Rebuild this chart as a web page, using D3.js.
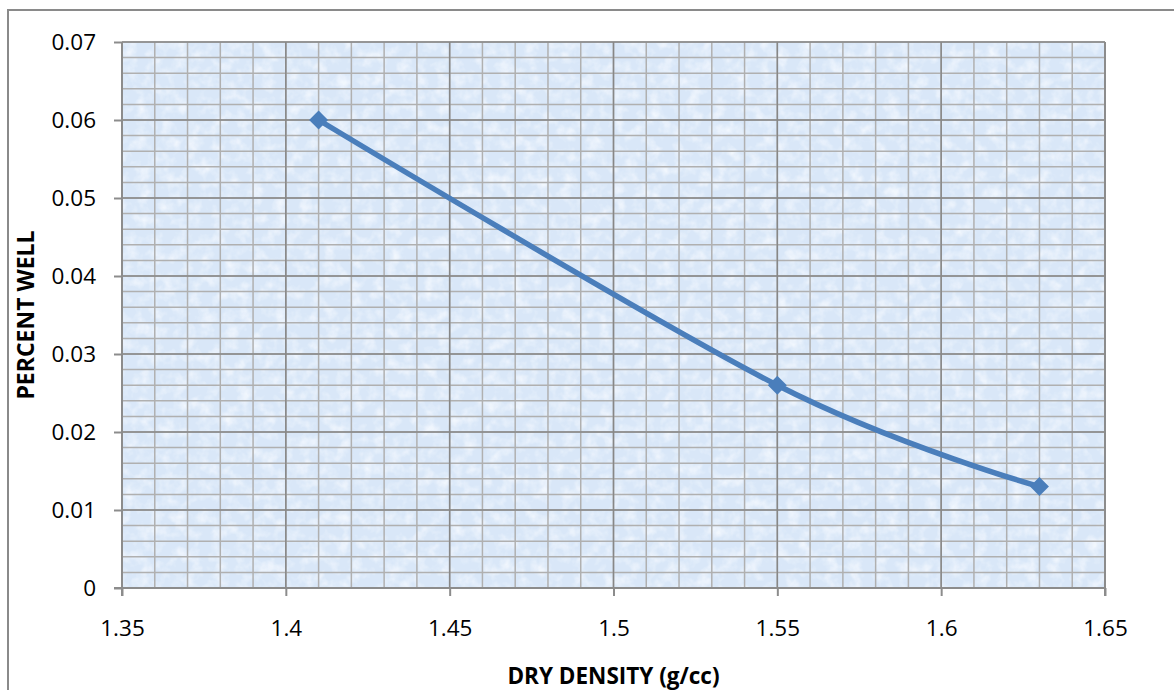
<!DOCTYPE html>
<html>
<head>
<meta charset="utf-8">
<script src="https://cdn.jsdelivr.net/npm/d3@7"></script>
<style>
  html, body { margin: 0; padding: 0; background: #fff; }
  svg { display: block; }
</style>
</head>
<body>
<svg id="chart" width="1174" height="690"></svg>
<script>
// ---- data ----
const xValues = [1.41, 1.55, 1.63];
const yValues = [0.06, 0.026, 0.013];
const xTickValues = [1.35, 1.40, 1.45, 1.50, 1.55, 1.60, 1.65];
const xTickLabels = ["1.35", "1.4", "1.45", "1.5", "1.55", "1.6", "1.65"];
const yTickValues = [0, 0.01, 0.02, 0.03, 0.04, 0.05, 0.06, 0.07];
const yTickLabels = ["0", "0.01", "0.02", "0.03", "0.04", "0.05", "0.06", "0.07"];
const xTitle = "DRY DENSITY (g/cc)";
const yTitle = "PERCENT WELL";

// ---- layout ----
const W = 1174, H = 690;
const plot = { left: 122, top: 42, right: 1105, bottom: 588 };
const svg = d3.select("#chart");
const font = "'Open Sans', 'Noto Sans', sans-serif";

const x = d3.scaleLinear().domain([1.35, 1.65]).range([plot.left, plot.right]);
const y = d3.scaleLinear().domain([0, 0.07]).range([plot.bottom, plot.top]);

// outer chart border
svg.append("rect")
  .attr("x", 8).attr("y", 10).attr("width", W + 10).attr("height", H + 10)
  .attr("fill", "#fff").attr("stroke", "#8a8a8a").attr("stroke-width", 2);

// background texture
const defs = svg.append("defs");
const f = defs.append("filter").attr("id", "tex")
  .attr("x", 0).attr("y", 0).attr("width", 1).attr("height", 1);
f.append("feTurbulence").attr("type", "fractalNoise")
  .attr("baseFrequency", "0.08").attr("numOctaves", 3).attr("seed", 4).attr("result", "n");
f.append("feColorMatrix").attr("in", "n").attr("type", "matrix")
  .attr("values", "0 0 0 0 0.93  0 0 0 0 0.96  0 0 0 0 1.0  0 0 0 -2.2 1.25")
  .attr("result", "c");
f.append("feComposite").attr("in", "c").attr("in2", "SourceGraphic").attr("operator", "in");

svg.append("rect")
  .attr("x", plot.left).attr("y", plot.top)
  .attr("width", plot.right - plot.left).attr("height", plot.bottom - plot.top)
  .attr("fill", "#d9e7f8");
svg.append("rect")
  .attr("x", plot.left).attr("y", plot.top)
  .attr("width", plot.right - plot.left).attr("height", plot.bottom - plot.top)
  .attr("fill", "#000").attr("opacity", 0.8).attr("filter", "url(#tex)");

// minor grid
const xMinor = d3.range(0, 31).map(i => 1.35 + i * 0.01);
const yMinor = d3.range(0, 36).map(i => i * 0.002);
const grid = svg.append("g");
grid.selectAll(".vminor").data(xMinor).join("line")
  .attr("x1", d => x(d)).attr("x2", d => x(d))
  .attr("y1", plot.top).attr("y2", plot.bottom)
  .attr("stroke", "#b0b0b0").attr("stroke-width", 1.5);
grid.selectAll(".hminor").data(yMinor).join("line")
  .attr("y1", d => y(d)).attr("y2", d => y(d))
  .attr("x1", plot.left).attr("x2", plot.right)
  .attr("stroke", "#b0b0b0").attr("stroke-width", 1.5);
// major grid
grid.selectAll(".vmajor").data(xTickValues).join("line")
  .attr("x1", d => x(d)).attr("x2", d => x(d))
  .attr("y1", plot.top).attr("y2", plot.bottom)
  .attr("stroke", "#878787").attr("stroke-width", 1.5);
grid.selectAll(".hmajor").data(yTickValues).join("line")
  .attr("y1", d => y(d)).attr("y2", d => y(d))
  .attr("x1", plot.left).attr("x2", plot.right)
  .attr("stroke", "#878787").attr("stroke-width", 1.5);

// axes
const xAxis = d3.axisBottom(x).tickValues(xTickValues)
  .tickFormat((d, i) => xTickLabels[i]).tickSize(8).tickPadding(24);
const yAxis = d3.axisLeft(y).tickValues(yTickValues)
  .tickFormat((d, i) => yTickLabels[i]).tickSize(8).tickPadding(18);

const gx = svg.append("g").attr("transform", `translate(0,${plot.bottom})`).call(xAxis);
const gy = svg.append("g").attr("transform", `translate(${plot.left},0)`).call(yAxis);
[gx, gy].forEach(g => {
  g.select(".domain").attr("stroke", "#8c8c8c").attr("stroke-width", 2)
    .attr("d", g === gx ? `M${plot.left - 8},0H${plot.right}` : `M0,${plot.bottom + 8}V${plot.top}`);
  g.selectAll(".tick line").attr("stroke", "#8c8c8c").attr("stroke-width", 2);
  g.selectAll(".tick text").attr("fill", "#000")
    .style("font-family", font).style("font-size", "22.5px");
});

// right edge of plot
svg.append("line").attr("x1", plot.right).attr("x2", plot.right)
  .attr("y1", plot.top).attr("y2", plot.bottom + 8)
  .attr("stroke", "#8c8c8c").attr("stroke-width", 2);

// axis titles
svg.append("text").attr("x", (plot.left + plot.right) / 2).attr("y", 684)
  .attr("text-anchor", "middle").style("font-family", font)
  .style("font-size", "22.5px").style("font-weight", "bold").text(xTitle);
svg.append("text")
  .attr("transform", `translate(34,315) rotate(-90)`)
  .attr("text-anchor", "middle").style("font-family", font)
  .style("font-size", "23px").style("font-weight", "bold").text(yTitle);

// series
const pts = xValues.map((v, i) => [v, yValues[i]]);
const line = d3.line().x(d => x(d[0])).y(d => y(d[1])).curve(d3.curveCatmullRom.alpha(0));
svg.append("path").datum(pts).attr("d", line)
  .attr("fill", "none").attr("stroke", "#4a7ebb").attr("stroke-width", 5.5)
  .attr("stroke-linejoin", "round").attr("stroke-linecap", "round");
svg.selectAll(".mk").data(pts).join("path")
  .attr("d", d3.symbol(d3.symbolSquare, 180))
  .attr("transform", d => `translate(${x(d[0])},${y(d[1])}) rotate(45)`)
  .attr("fill", "#4a7ebb");
</script>
</body>
</html>
